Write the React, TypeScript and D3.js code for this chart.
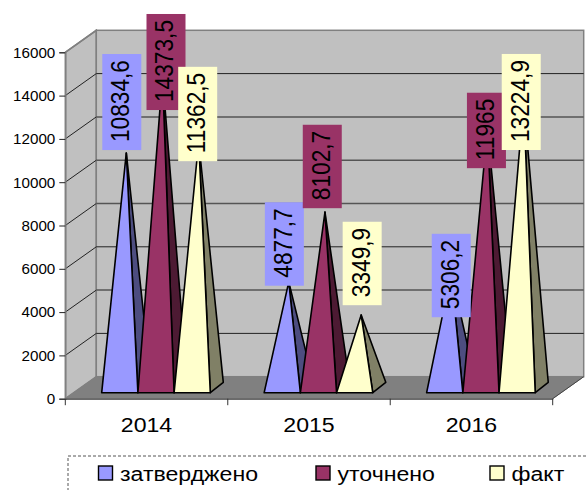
import React, { useEffect, useRef } from "react";
import * as d3 from "d3";

const years = ["2014", "2015", "2016"];
const seriesNames = ["затверджено", "уточнено", "факт"];
const zatverdzheno = [10834.6, 4877.7, 5306.2];
const utochneno = [14373.5, 8102.7, 11965];
const fakt = [11362.5, 3349.9, 13224.9];
const valueLabels = [
  ["10834,6", "4877,7", "5306,2"],
  ["14373,5", "8102,7", "11965"],
  ["11362,5", "3349,9", "13224,9"],
];
const yTicks = [0, 2000, 4000, 6000, 8000, 10000, 12000, 14000, 16000];
// these gridlines came out heavier in the original raster
const heavyGrid = [4000, 8000, 10000, 12000];

const frontColors = ["#9999ff", "#993366", "#ffffcc"];
const sideColors = ["#4d4d80", "#4d1a33", "#808066"];
// label offset from the apex, excel placed these by hand
const labelNudgeX = [[-4.5, -4.4, 0], [3.5, -2.7, -1], [-1, 1, -2.4]];
const labelNudgeY = [[-50.9, -37.9, 2.9], [-14.3, -45.6, 2], [-27.5, -51.5, 0.8]];
const legendX = [98.5, 316, 490];

export default function App() {
  const svgRef = useRef<SVGSVGElement>(null);

  useEffect(() => {
    const w = 587;
    const h = 490;
    const svg = d3.select(svgRef.current);
    svg.selectAll("*").remove();
    svg.attr("width", w).attr("height", h);
    const font = "'Liberation Sans', Arial, sans-serif";

    const left = 65.3;
    const right = 552.7;
    const bottom = 398.7;
    const top = 52.3;
    const depthX = 31;
    const depthY = -22;
    const stretch = 1.1; // the source picture is a little wider than tall

    const x = d3.scaleBand().domain(years).range([left, right]);
    const inner = d3.scaleBand().domain(seriesNames).range([36.4, 145]);
    const y = d3.scaleLinear().domain([0, 16000]).range([bottom, top]);
    const line = d3.line();

    // walls and floor
    svg.append("path")
      .attr("d", line([[left, top], [left + depthX, top + depthY], [left + depthX, bottom + depthY], [left, bottom]]) + "Z")
      .attr("fill", "#c0c0c0").attr("stroke", "#808080").attr("stroke-width", 1.5);
    svg.append("rect")
      .attr("x", left + depthX).attr("y", top + depthY)
      .attr("width", right - left).attr("height", bottom - top)
      .attr("fill", "#c0c0c0").attr("stroke", "#808080").attr("stroke-width", 1.5);
    svg.append("path")
      .attr("d", line([[left, bottom], [left + depthX, bottom + depthY], [right + depthX, bottom + depthY], [right, bottom]]) + "Z")
      .attr("fill", "#808080").attr("stroke", "#808080");

    // grid
    yTicks.slice(1, -1).forEach((t) => {
      const heavy = heavyGrid.includes(t);
      svg.append("path")
        .attr("d", line([[left, y(t)], [left + depthX, y(t) + depthY]]))
        .attr("fill", "none").attr("stroke", "#222").attr("stroke-width", 1);
      svg.append("path")
        .attr("d", line([[left + depthX, y(t) + depthY], [right + depthX, y(t) + depthY]]))
        .attr("fill", "none").attr("stroke", heavy ? "#555" : "#222").attr("stroke-width", heavy ? 1.5 : 1);
    });
    svg.append("path")
      .attr("d", line([[left, y(16000)], [left + depthX, y(16000) + depthY]]))
      .attr("fill", "none").attr("stroke", "#808080").attr("stroke-width", 1.5);

    // axes
    const yAxis = d3.axisLeft(y).tickValues(yTicks).tickSize(6).tickPadding(4).tickFormat(d3.format("d"));
    const gy = svg.append("g").attr("transform", `translate(${left},0)`).call(yAxis);
    gy.select(".domain").attr("stroke", "#808080").attr("stroke-width", 1.5);
    gy.selectAll("line").attr("stroke", "#222");
    gy.selectAll("text").attr("font-family", font).attr("font-size", 15.2).attr("fill", "#000");

    const xAxis = d3.axisBottom(x).tickSize(0).tickPadding(18);
    const gx = svg.append("g").attr("transform", `translate(0,${bottom})`).call(xAxis);
    gx.select(".domain").attr("stroke", "#333").attr("stroke-width", 1);
    gx.selectAll("text")
      .attr("font-family", font).attr("font-size", 21).attr("fill", "#000")
      .attr("transform", `scale(${stretch},1)`);
    d3.range(years.length + 1).forEach((i) => {
      const tx = left + i * x.step();
      svg.append("line").attr("x1", tx).attr("x2", tx).attr("y1", bottom).attr("y2", bottom + 6.5)
        .attr("stroke", "#333");
    });
    svg.append("path")
      .attr("d", line([[right, bottom], [right + depthX, bottom + depthY]]))
      .attr("stroke", "#444").attr("fill", "none");

    // pyramids
    const allSeries = [zatverdzheno, utochneno, fakt];
    const barW = inner.bandwidth();
    const baseY = bottom - 6;
    const backX = 13;
    const backY = -10.4;
    const apexOf = (s: number, c: number): [number, number] => {
      const bx = x(years[c])! + inner(seriesNames[s])!;
      return [bx + barW / 2 + backX / 2, y(allSeries[s][c]) - 11.2];
    };

    years.forEach((yr, c) => {
      allSeries.forEach((vals, s) => {
        const bx = x(yr)! + inner(seriesNames[s])!;
        const apex = apexOf(s, c);
        svg.append("path")
          .attr("d", line([[bx + barW, baseY], [bx + barW + backX, baseY + backY], apex]) + "Z")
          .attr("fill", sideColors[s]).attr("stroke", "#000").attr("stroke-width", 1.6).attr("stroke-linejoin", "round");
        svg.append("path")
          .attr("d", line([[bx, baseY], [bx + barW, baseY], apex]) + "Z")
          .attr("fill", frontColors[s]).attr("stroke", "#000").attr("stroke-width", 1.6).attr("stroke-linejoin", "round");
      });
    });

    // data labels
    years.forEach((yr, c) => {
      allSeries.forEach((vals, s) => {
        const apex = apexOf(s, c);
        const cx = apex[0] + labelNudgeX[s][c];
        const cy = apex[1] + labelNudgeY[s][c];
        const g = svg.append("g").attr("transform", `translate(${cx},${cy})`);
        const rect = g.append("rect").attr("fill", frontColors[s]);
        const text = g.append("text")
          .attr("transform", "rotate(-90) scale(1,1.13)")
          .attr("text-anchor", "middle")
          .attr("x", 1)
          .attr("y", 6.6)
          .attr("font-family", font)
          .attr("font-size", 22.7)
          .attr("fill", "#000")
          .text(valueLabels[s][c]);
        const len = (text.node() as SVGTextElement).getComputedTextLength() + 14;
        rect.attr("x", -19.5).attr("width", 39).attr("y", -len / 2).attr("height", len);
      });
    });

    // legend
    svg.append("rect")
      .attr("x", 68).attr("y", 456).attr("width", 560).attr("height", 80)
      .attr("fill", "none").attr("stroke", "#555").attr("stroke-dasharray", "3 2").attr("stroke-width", 1);
    seriesNames.forEach((name, i) => {
      svg.append("rect")
        .attr("x", legendX[i]).attr("y", 466).attr("width", 14).attr("height", 14)
        .attr("fill", frontColors[i]).attr("stroke", "#000").attr("stroke-width", 1.4);
      svg.append("text")
        .attr("transform", `translate(${legendX[i] + 21.5},480.5) scale(${stretch},1)`)
        .attr("font-family", font).attr("font-size", 21).attr("fill", "#000")
        .text(name);
    });
  }, []);

  return <svg ref={svgRef} style={{ position: "absolute", left: 0, top: 0, display: "block" }}></svg>;
}
